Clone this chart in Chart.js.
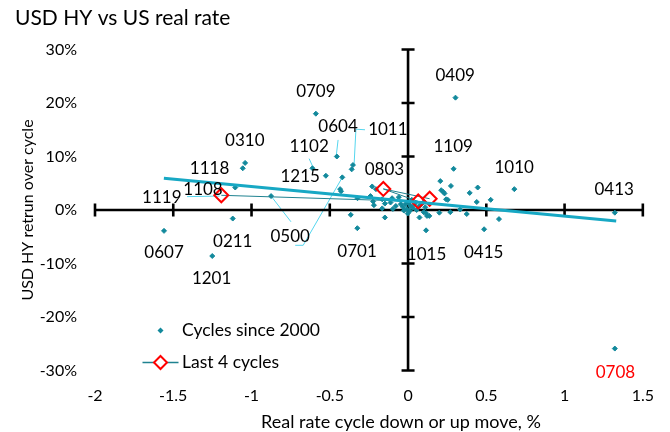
<!DOCTYPE html>
<html>
<head>
<meta charset="utf-8">
<script src="https://cdn.jsdelivr.net/npm/chart.js@4"></script>
<style>
  html, body { margin: 0; padding: 0; background: #fff; }
  #wrap { width: 670px; height: 432px; position: relative; }
</style>
</head>
<body>
<div id="wrap"><canvas id="c" width="670" height="432"></canvas></div>
<script>
// ---- Data ----
// Cycles since 2000: real rate move (%) and USD HY return over cycle (%)
const realRateMove = [
  0.303, 1.321, 1.321, -0.589, -0.455, -0.352, -0.36, -1.041, -1.056, -0.611,
  -0.525, -0.42, -1.104, -0.434, -0.428, -0.875, -0.323, -0.229, -0.205, -0.24,
  -0.223, -0.218, -0.148, -0.165, -0.112, -0.102, -0.059, -0.366, -0.148, -0.324,
  -1.12, -1.559, -1.251, 0.291, 0.206, 0.274, 0.212, 0.224, 0.233, 0.394,
  0.445, 0.679, 0.528, 0.439, 0.254, 0.2, 0.27, 0.333, 0.375, 0.115,
  0.121, 0.136, 0.073, 0.581, 0.486, 0.115, -0.034, -0.015, 0.004, 0.017,
  -0.008, 0.03, -0.027, 0.011, 0.043, -0.046, -0.078, -0.002, 0.055, 0.024,
  -0.097, 0.074, 0.093, 0.1, -0.165, 0.089, 0.11, 0.243
];
const hyReturn = [
  21.0, -0.5, -25.9, 18.0, 10.0, 8.4, 7.6, 8.8, 7.8, 7.8,
  6.4, 6.1, 4.2, 3.9, 3.5, 2.6, 2.2, 4.4, 3.9, 2.6,
  1.6, 0.9, 1.2, 0.3, 1.4, 2.2, 2.4, -0.9, -1.4, -3.4,
  -1.6, -3.9, -8.6, 7.7, 5.4, 4.5, 3.7, 3.4, 3.1, 3.2,
  4.2, 3.9, 1.9, 1.5, 1.9, -0.5, -0.4, 0.1, -0.75, -0.6,
  -1.1, -1.1, -1.4, -1.7, -3.6, -3.8, 0.6, 1.1, 1.3, 0.75,
  0.2, 0.4, -0.1, -0.2, 1.1, 1.1, 0.75, -0.65, 0.0, 1.9,
  0.2, 0.75, 1.3, -0.4, 2.0, 1.2, 0.5, 2.0
];
// Last 4 cycles (connected in this order)
const last4Move   = [-1.193, 0.065, -0.158, 0.138];
const last4Return = [2.75, 1.6, 3.94, 2.1];
// Trend line end points
const trendMove   = [-1.56, 1.33];
const trendReturn = [5.95, -2.06];
// Axis ticks
const xTickValues = [-2, -1.5, -1, -0.5, 0, 0.5, 1, 1.5];
const yTickValues = [-30, -20, -10, 0, 10, 20, 30];
// Point labels
const labelNames = ['0409','0413','0708','0709','0604','1011','1102','0310','1118','1215','1108',
                    '1119','0500','0211','0607','1201','0701','0803','1109','1010','0415','1015'];

// ---- Annotation layout (positions in data units, kept apart from the data) ----
const labelAnchors = {
  '0409':[0.301,25.1], '0413':[1.317,3.75], '0708':[1.325,-30.3], '0709':[-0.589,22.1],
  '0604':[-0.447,15.6], '1011':[-0.129,15.0], '1102':[-0.632,11.9], '0310':[-1.043,12.9],
  '1118':[-1.268,7.7], '1215':[-0.689,6.2], '1108':[-1.31,3.9], '1119':[-1.573,2.4],
  '0500':[-0.753,-5.0], '0211':[-1.12,-5.9], '0607':[-1.559,-8.0], '1201':[-1.255,-12.8],
  '0701':[-0.326,-7.8], '0803':[-0.151,7.5], '1109':[0.288,11.8], '1010':[0.678,8.0],
  '0415':[0.483,-8.0], '1015':[0.118,-8.3]
};
const redLabels = ['0708'];
const leaderLines = [
  [[-0.447,13.1],[-0.458,10.3]],
  [[-0.275,15.0],[-0.333,15.1],[-0.345,8.3]],
  [[-0.632,9.6],[-0.604,7.8]],
  [[-0.875,2.6],[-0.748,-2.2]],
  [[-0.721,-6.6],[-0.67,-6.6],[-0.42,6.1]],
  [[-1.412,2.5],[-1.204,2.6]]
];
const xTitle = 'Real rate cycle down or up move, %';

const FONT = 'Lato, "Open Sans", sans-serif';
const PT_COLOR = '#12899C';
const TREND_COLOR = '#17A8C4';
const LAST4_LINE = '#1F8290';

const toXY = (xs, ys) => xs.map((v, i) => ({ x: v, y: ys[i] }));

const overlay = {
  id: 'overlay',
  beforeDatasetsDraw(chart) {
    const { ctx, scales: { x, y } } = chart;
    ctx.save();
    // leader lines
    ctx.strokeStyle = '#55D6EE';
    ctx.lineWidth = 1;
    leaderLines.forEach(pts => {
      ctx.beginPath();
      pts.forEach(([a, b], i) => {
        const px = x.getPixelForValue(a), py = y.getPixelForValue(b);
        if (i) ctx.lineTo(px, py); else ctx.moveTo(px, py);
      });
      ctx.stroke();
    });
    // crossing axes
    const x0 = x.getPixelForValue(0), y0 = y.getPixelForValue(0);
    ctx.strokeStyle = '#000';
    ctx.lineWidth = 2.6;
    ctx.lineCap = 'butt';
    ctx.beginPath();
    ctx.moveTo(x.left, y0); ctx.lineTo(x.right, y0);
    ctx.moveTo(x0, y.top); ctx.lineTo(x0, y.bottom);
    xTickValues.forEach(v => {
      const px = x.getPixelForValue(v);
      ctx.moveTo(px, y0 - 6.5); ctx.lineTo(px, y0 + 6.5);
    });
    yTickValues.forEach(v => {
      const py = y.getPixelForValue(v);
      ctx.moveTo(x0 - 6.5, py); ctx.lineTo(x0 + 6.5, py);
    });
    ctx.stroke();
    ctx.restore();
  },
  afterDatasetsDraw(chart) {
    const { ctx, scales: { x, y } } = chart;
    ctx.save();
    ctx.font = '17px ' + FONT;
    ctx.textAlign = 'center';
    ctx.textBaseline = 'middle';
    labelNames.forEach(name => {
      const [a, b] = labelAnchors[name];
      ctx.fillStyle = redLabels.includes(name) ? '#FF0000' : '#000';
      ctx.fillText(name, x.getPixelForValue(a), y.getPixelForValue(b));
    });
    ctx.restore();
  },
  afterDraw(chart) {
    const { ctx } = chart;
    const ds0 = chart.data.datasets[0], ds1 = chart.data.datasets[1];
    ctx.save();
    // x axis title
    ctx.font = '18px ' + FONT;
    ctx.fillStyle = '#000';
    ctx.textAlign = 'center';
    ctx.textBaseline = 'middle';
    ctx.fillText(xTitle, 401, 422);
    // legend
    ctx.textAlign = 'left';
    ctx.font = '17.5px ' + FONT;
    ctx.fillStyle = PT_COLOR;
    ctx.beginPath();
    ctx.moveTo(160.5, 327.5); ctx.lineTo(163.5, 330.5); ctx.lineTo(160.5, 333.5); ctx.lineTo(157.5, 330.5); ctx.closePath();
    ctx.fill();
    ctx.fillStyle = '#000';
    ctx.fillText(ds0.label, 182, 330.5);
    ctx.strokeStyle = LAST4_LINE; ctx.lineWidth = 1.5;
    ctx.beginPath(); ctx.moveTo(142.5, 362.5); ctx.lineTo(178.5, 362.5); ctx.stroke();
    ctx.fillStyle = '#fff'; ctx.strokeStyle = '#FF0000'; ctx.lineWidth = 2;
    ctx.beginPath();
    ctx.moveTo(160.5, 356); ctx.lineTo(167, 362.5); ctx.lineTo(160.5, 369); ctx.lineTo(154, 362.5); ctx.closePath();
    ctx.fill(); ctx.stroke();
    ctx.fillStyle = '#000';
    ctx.fillText(ds1.label, 182, 362.5);
    ctx.restore();
  }
};

new Chart(document.getElementById('c'), {
  type: 'scatter',
  data: {
    datasets: [
      {
        label: 'Cycles since 2000',
        data: toXY(realRateMove, hyReturn),
        pointStyle: 'rectRot',
        pointRadius: 2.5,
        pointBorderWidth: 1,
        backgroundColor: PT_COLOR,
        borderColor: PT_COLOR,
        order: 3
      },
      {
        label: 'Last 4 cycles',
        data: toXY(last4Move, last4Return),
        showLine: true,
        borderColor: LAST4_LINE,
        borderWidth: 1,
        pointStyle: 'rectRot',
        pointRadius: 7,
        pointBorderWidth: 2,
        pointBorderColor: '#FF0000',
        pointBackgroundColor: 'rgba(255,255,255,0)',
        order: 2
      },
      {
        label: 'Trend',
        data: toXY(trendMove, trendReturn),
        showLine: true,
        borderColor: TREND_COLOR,
        borderWidth: 3,
        pointRadius: 0,
        order: 1
      }
    ]
  },
  options: {
    responsive: false,
    animation: false,
    events: [],
    layout: { padding: { left: 15, right: 25, top: 0, bottom: 0 } },
    plugins: {
      legend: { display: false },
      tooltip: { enabled: false },
      title: {
        display: true,
        text: 'USD HY vs US real rate',
        align: 'start',
        color: '#000',
        font: { family: FONT, size: 21, weight: 'normal', lineHeight: 1.2 },
        padding: { top: 6, bottom: 18.3 }
      }
    },
    scales: {
      x: {
        type: 'linear',
        min: -2, max: 1.5,
        afterBuildTicks: s => { s.ticks = xTickValues.map(v => ({ value: v })); },
        afterFit: s => { s.height = 61.5; },
        grid: { display: false, drawTicks: false },
        border: { display: false },
        ticks: { color: '#000', font: { family: FONT, size: 16 }, padding: 16, maxRotation: 0,
                 callback: v => String(v) },
        title: { display: false }
      },
      y: {
        type: 'linear',
        min: -30, max: 30,
        afterBuildTicks: s => { s.ticks = yTickValues.map(v => ({ value: v })); },
        afterFit: s => { s.width = 80; },
        grid: { display: false, drawTicks: false },
        border: { display: false },
        ticks: { color: '#000', font: { family: FONT, size: 16 }, padding: 18,
                 callback: v => v + '%' },
        title: { display: true, text: 'USD HY retrun over cycle', color: '#000',
                 font: { family: FONT, size: 16 }, padding: { top: 3, bottom: 0 } }
      }
    }
  },
  plugins: [overlay]
});
</script>
</body>
</html>
